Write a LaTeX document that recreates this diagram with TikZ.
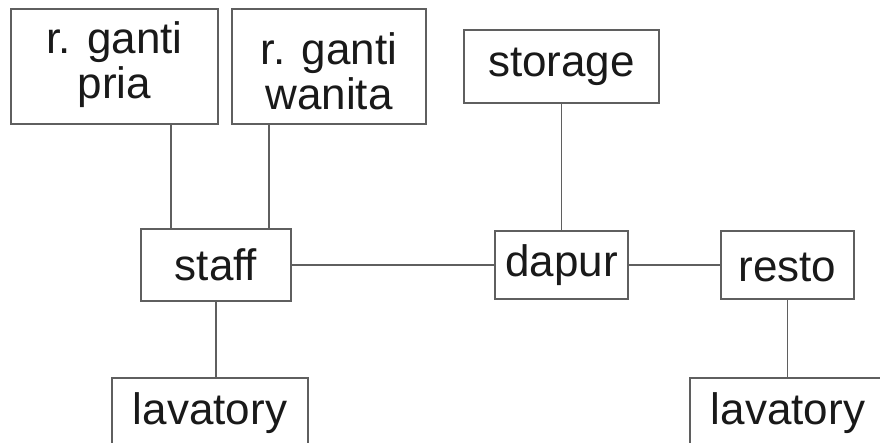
\documentclass[tikz,border=0pt]{standalone}
\usepackage{fontspec}
\setmainfont{Liberation Sans}
\begin{document}
\begin{tikzpicture}[x=1pt,y=-1pt,
  box/.style={draw=linegray,line width=1.1pt,inner sep=0pt,align=center,
    font=\fontsize{44}{45}\selectfont,text=black!90},
  txt/.style={inner sep=0pt,align=center,font=\fontsize{44}{44.5}\selectfont,text=black!90},
  conn/.style={draw=linegray,line width=1.1pt}]
\definecolor{linegray}{RGB}{95,95,95}
\useasboundingbox (0,0) rectangle (880,443);
\clip (0,0) rectangle (880,443);
\node[box,minimum width=207pt,minimum height=115pt] (pria) at (114.5,66.5) {};
\node[txt] (priaT) at (114.5,64.5) {r. ganti\\pria};
\node[box,minimum width=194pt,minimum height=115pt] (wanita) at (329,66.5) {};
\node[txt] (wanitaT) at (329,71.5) {r. ganti\\wanita};
\node[box,minimum width=195pt,minimum height=73pt] (storage) at (561.5,66.5) {storage};
\node[box,minimum width=150pt,minimum height=72pt] (staff) at (216,265) {staff};
\node[box,minimum width=133pt,minimum height=68pt] (dapur) at (561.5,265) {dapur};
\node[box,minimum width=133pt,minimum height=68pt] (resto) at (787.5,265) {};
\node[txt] (restoT) at (787.5,267) {resto};
\node[box,minimum width=196pt,minimum height=70pt] (lavL) at (210,413) {lavatory};
\node[box,minimum width=196pt,minimum height=70pt] (lavR) at (788,413) {lavatory};
\draw[conn] ([xshift=56.5pt]pria.south) -- ([xshift=56.5pt]pria.south |- staff.north);
\draw[conn] ([xshift=-60pt]wanita.south) -- ([xshift=-60pt]wanita.south |- staff.north);
\draw[conn] (storage.south) -- (dapur.north);
\draw[conn] (staff.east) -- (dapur.west);
\draw[conn] (dapur.east) -- (resto.west);
\draw[conn] (staff.south) -- (staff.south |- lavL.north);
\draw[conn] (resto.south) -- (resto.south |- lavR.north);
\end{tikzpicture}
\end{document}
